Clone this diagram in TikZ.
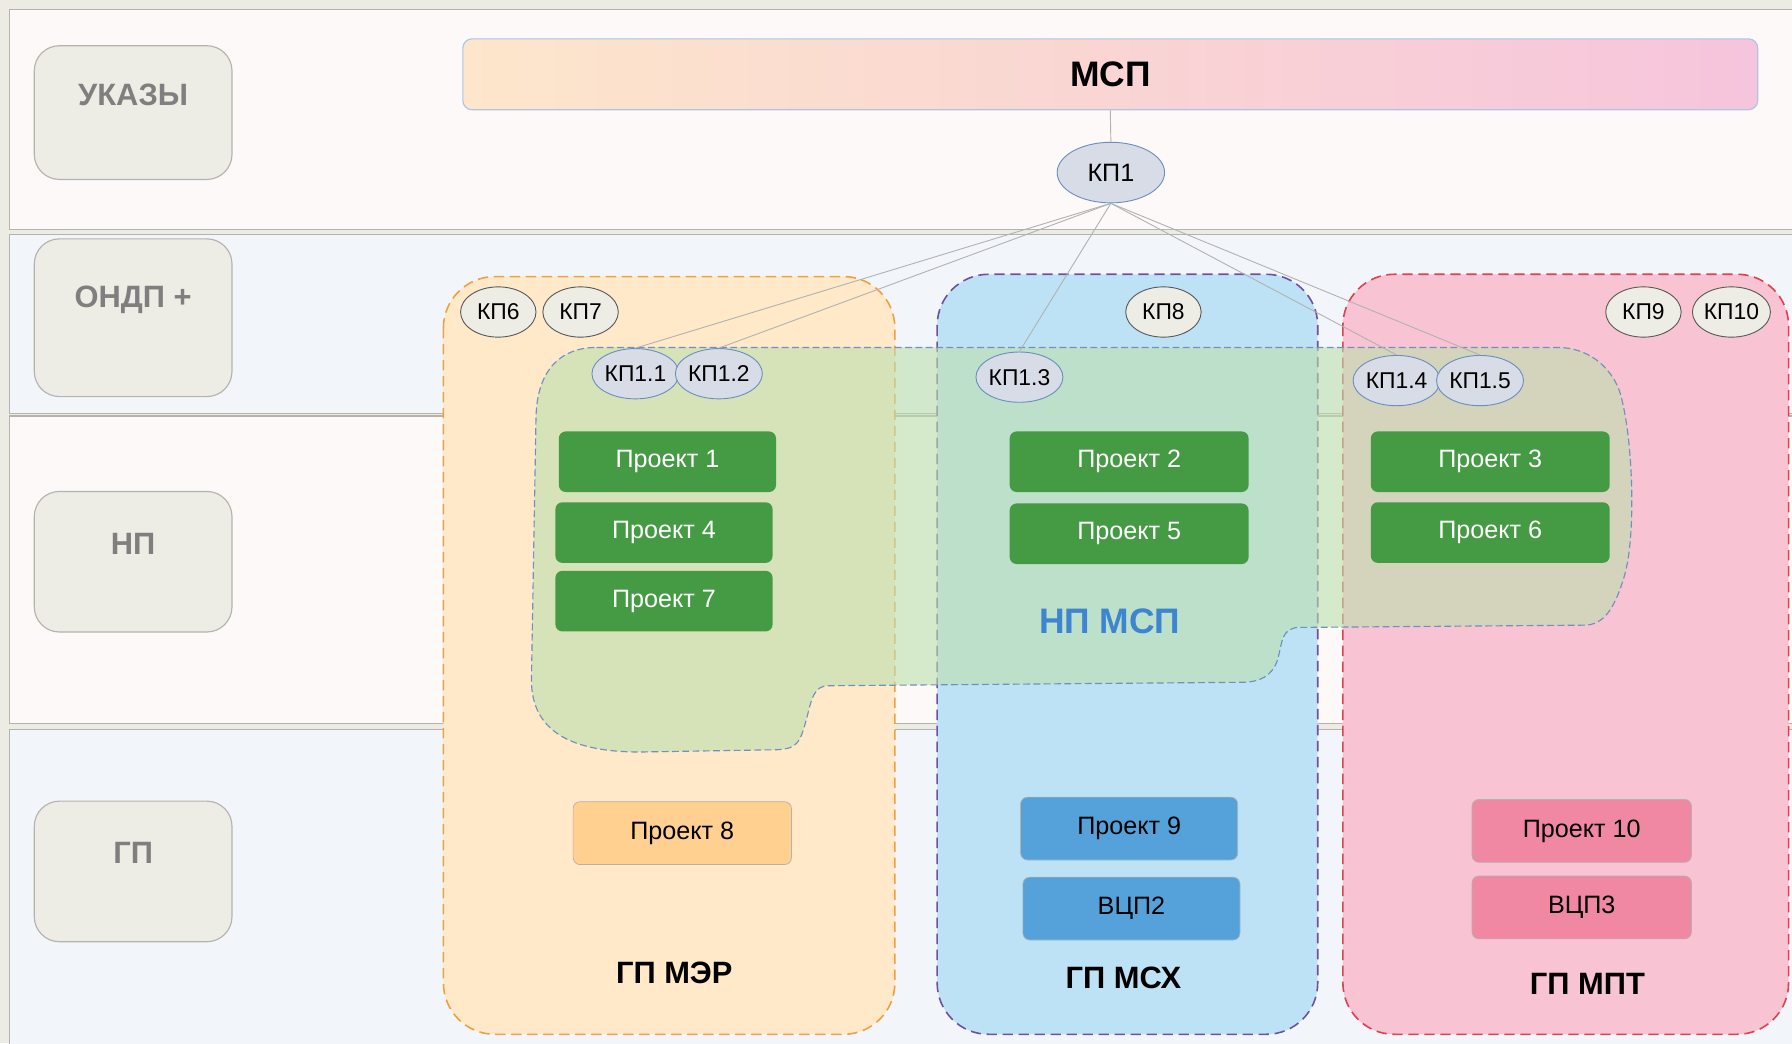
\documentclass[tikz,border=0pt]{standalone}
\usepackage{fontspec}
\setmainfont{Liberation Sans}
\usetikzlibrary{shapes.geometric}

\definecolor{bgframe}{HTML}{ECECE4}
\definecolor{lanewhite}{HTML}{FCF9F8}
\definecolor{laneblue}{HTML}{F2F6FB}
\definecolor{laneline}{HTML}{B4B4AC}
\definecolor{tagfill}{HTML}{EDEDE5}
\definecolor{tagtext}{HTML}{7F7F7F}
\definecolor{mspleft}{HTML}{FDE6CB}
\definecolor{mspmid}{HTML}{FAD6D2}
\definecolor{mspright}{HTML}{F6C4DC}
\definecolor{mspline}{HTML}{A9C6E8}
\definecolor{kpfill}{HTML}{D8DCE6}
\definecolor{kpline}{HTML}{6C8EBF}
\definecolor{kpgrey}{HTML}{EDEDE5}
\definecolor{merfill}{HTML}{FFE9C9}
\definecolor{merline}{HTML}{F0A040}
\definecolor{mshfill}{HTML}{BEE2F5}
\definecolor{mshline}{HTML}{7050A0}
\definecolor{mptfill}{HTML}{F8C3D2}
\definecolor{mptline}{HTML}{E04050}
\definecolor{npfill}{HTML}{BCDFAE}
\definecolor{npline}{HTML}{7090C0}
\definecolor{nptext}{HTML}{3D85D0}
\definecolor{prgreen}{HTML}{459B43}
\definecolor{prorange}{HTML}{FFD08F}
\definecolor{prblue}{HTML}{55A2DA}
\definecolor{prpink}{HTML}{F088A4}

\newcommand\fsz[1]{\fontsize{#1}{#1}\selectfont}

\begin{document}
\begin{tikzpicture}[
        x=1pt, y=-1pt,
        every node/.style={font=\fsz{22}},
        lane/.style={fill=#1, draw=laneline, line width=1pt},
        tag/.style={fill=tagfill, draw=laneline, line width=1pt, rounded corners=22pt,
            minimum width=173pt},
        tagtext/.style={text=tagtext, font=\fsz{27}\bfseries},
        kp/.style={ellipse, fill=kpfill, draw=kpline, line width=0.8pt, inner sep=0pt,
            minimum width=66pt, minimum height=44pt, font=\fsz{20}},
        kpout/.style={kp, fill=kpgrey, draw=black!65},
        gp/.style 2 args={fill=#1, draw=#2, line width=1.4pt, dash pattern=on 9pt off 5pt,
            rounded corners=45pt},
        prbox/.style={fill=prgreen, text=white, rounded corners=6pt, inner sep=0pt,
            minimum width=190pt, minimum height=53pt},
        prown/.style 2 args={prbox, fill=#1, draw=#2, text=black, line width=0.6pt},
        title/.style={font=\fsz{27}\bfseries},
        wire/.style={draw=black!30, line width=0.8pt},
    ]

    % Frame and lanes.
    \useasboundingbox (0,0) rectangle (1568,913);
    \clip (0,0) rectangle (1568,913);
    \fill[bgframe] (0,0) rectangle (1568,913);
    \foreach \ytop/\ybot/\col in {8/201/lanewhite, 205/362/laneblue,
                                  364/633/lanewhite, 638/916/laneblue}
    {
        \path[lane=\col] (8,\ytop) rectangle (1572,\ybot);
    }

    % Lane tags.
    \node[tag, minimum height=117pt] (tagukazy) at (116.5,98.5) {};
    \node[tag, minimum height=138pt] (tagondp) at (116.5,278) {};
    \node[tag, minimum height=123pt] (tagnp) at (116.5,491.5) {};
    \node[tag, minimum height=123pt] (taggp) at (116.5,762.5) {};
    \node[tagtext] at (116.5,83) {УКАЗЫ};
    \node[tagtext] at (116.5,262) {ОНДП +};
    \node[tagtext] at (116.5,476) {НП};
    \node[tagtext] at (116.5,746) {ГП};

    % Top bar.
    \node[draw=mspline, line width=1pt, rounded corners=8pt,
          left color=mspleft, middle color=mspmid, right color=mspright,
          minimum width=1133pt, minimum height=62pt, font=\fsz{31}\bfseries]
        (msp) at (971.5,65) {МСП};

    % Ministries.
    \path[gp={merfill}{merline}] (388,242) rectangle (783,905);
    \path[gp={mshfill}{mshline}] (820,240) rectangle (1153,905);
    \path[gp={mptfill}{mptline}] (1175,240) rectangle (1565,905);

    % National project area.
    \path[fill=npfill, fill opacity=0.6, draw=npline, line width=1pt,
          dash pattern=on 6pt off 3pt]
        (522,304) -- (1362,304)
        .. controls (1396,304) and (1412,328) .. (1417,342)
        .. controls (1429,380) and (1432,470) .. (1421,505)
        .. controls (1412,535) and (1402,547) .. (1386,547)
        -- (1136,549)
        .. controls (1121,550) and (1122,562) .. (1118,577)
        .. controls (1113,592) and (1102,597) .. (1086,597)
        -- (725,600)
        .. controls (712,600) and (710,612) .. (706,628)
        .. controls (700,650) and (698,655) .. (680,656)
        -- (560,658)
        .. controls (500,658) and (465,640) .. (465,595)
        -- (469,365)
        .. controls (470,322) and (492,304) .. (522,304) -- cycle;
    \node[font=\fsz{31}\bfseries, text=nptext] (npmsp) at (971,544) {НП МСП};

    % Projects.
    \node[prbox] (pr1) at (584,404) {Проект 1};
    \node[prbox] (pr4) at (581,466) {Проект 4};
    \node[prbox] (pr7) at (581,526) {Проект 7};
    \node[prbox, minimum width=209pt] (pr2) at (988,404) {Проект 2};
    \node[prbox, minimum width=209pt] (pr5) at (988,467) {Проект 5};
    \node[prbox, minimum width=209pt] (pr3) at (1304,404) {Проект 3};
    \node[prbox, minimum width=209pt] (pr6) at (1304,466) {Проект 6};

    \node[prown={prorange}{black!30}, minimum width=191pt, minimum height=55pt]
        (pr8) at (597,729) {Проект 8};
    \node[prown={prblue}{black!30}, minimum height=55pt] (pr9) at (988,725) {Проект 9};
    \node[prown={prblue}{black!30}, minimum height=55pt] (vcp2) at (990,795) {ВЦП2};
    \node[prown={prpink}{black!30}, minimum width=192pt, minimum height=55pt]
        (pr10) at (1384,727) {Проект 10};
    \node[prown={prpink}{black!30}, minimum width=192pt, minimum height=55pt]
        (vcp3) at (1384,794) {ВЦП3};

    \node[title] (gpmer) at (590,851) {ГП МЭР};
    \node[title] (gpmsh) at (983,856) {ГП МСХ};
    \node[title] (gpmpt) at (1389,861) {ГП МПТ};

    % Control points.
    \node[kp, minimum width=94pt, minimum height=53pt, font=\fsz{22}] (kp1) at (972,151) {КП1};
    \foreach \name/\x/\y/\lbl in {kp11/556/327/1.1, kp12/629/327/1.2, kp13/892/330/1.3,
                                  kp14/1222/333/1.4, kp15/1295/333/1.5}
    {
        \node[kp] (\name) at (\x,\y) {КП\lbl};
    }
    \foreach \name/\x/\lbl in {kp6/436/6, kp7/508/7, kp8/1018/8, kp9/1438/9, kp10/1515/10}
    {
        \node[kpout] (\name) at (\x,273) {КП\lbl};
    }

    \draw[wire] (msp.south) -- (kp1.north);
    \foreach \name in {kp11,kp12,kp13,kp14,kp15}
    {
        \draw[wire] (kp1.south) -- (\name.north);
    }
\end{tikzpicture}
\end{document}
